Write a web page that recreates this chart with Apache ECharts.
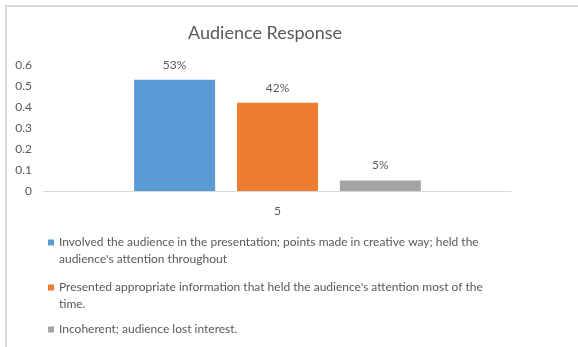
<!DOCTYPE html>
<html>
<head>
<meta charset="utf-8">
<script src="https://cdn.jsdelivr.net/npm/echarts@6/dist/echarts.min.js"></script>
<style>
  html, body { margin: 0; padding: 0; background: #ffffff; }
  #chart { width: 578px; height: 347px; }
</style>
</head>
<body>
<div id="chart"></div>
<script>
// Survey results for one presentation (category "5")
const categories = ['5'];
const seriesNames = [
  "Involved the audience in the presentation; points made in creative way; held the audience's attention throughout",
  "Presented appropriate information that held the audience's attention most of the time.",
  "Incoherent; audience lost interest."
];
// legend text, wrapped into lines
const legendLines = [
  ["Involved the audience in the presentation; points made in creative way; held the", "audience's attention throughout"],
  ["Presented appropriate information that held the audience's attention most of the", "time."],
  ["Incoherent; audience lost interest."]
];
const involvedValues = [0.53];
const presentedValues = [0.42];
const incoherentValues = [0.05];
const yTicks = { min: 0, max: 0.6, interval: 0.1 };

const colors = ['#5B9BD5', '#ED7D31', '#A5A5A5'];
const seriesValues = [involvedValues, presentedValues, incoherentValues];
const textColor = '#595959';
const fontFamily = 'Lato, "Liberation Sans", sans-serif';

const chart = echarts.init(document.getElementById('chart'), null, { renderer: 'canvas' });

const lineH = 17;
// vertical centre of the first text line of each legend entry
const legendCentres = [242, 287, 329];

// Legend text is centred on its swatch; a leading blank line keeps the
// swatch level with the first line of a wrapped entry.
function legendText(lines) {
  return lines.length > 1 ? '\n' + lines.join('\n') : lines[0];
}
function legendTop(lines, centre) {
  const nLines = lines.length > 1 ? lines.length + 1 : 1;
  return Math.round(centre - nLines * lineH / 2);
}

chart.setOption({
  animation: false,
  textStyle: { fontFamily: fontFamily, color: textColor },
  title: {
    text: 'Audience Response',
    left: 188,
    top: 24,
    padding: 0,
    textStyle: { fontFamily: fontFamily, fontSize: 18, fontWeight: 'normal', color: textColor }
  },
  graphic: [{
    type: 'rect',
    silent: true,
    shape: { x: 6, y: 6, width: 600, height: 400 },
    style: { fill: 'none', stroke: '#d9d9d9', lineWidth: 2 }
  }],
  legend: legendLines.map((lines, i) => ({
    data: [seriesNames[i]],
    orient: 'vertical',
    left: 48,
    top: legendTop(lines, legendCentres[i]),
    padding: 0,
    itemWidth: 6,
    itemHeight: 6,
    icon: 'rect',
    selectedMode: false,
    formatter: () => legendText(lines),
    textStyle: {
      fontFamily: fontFamily,
      fontSize: 12,
      color: textColor,
      lineHeight: lineH
    }
  })),
  grid: { left: 44, right: 67, top: 65, bottom: 156, containLabel: false },
  xAxis: {
    type: 'category',
    data: categories,
    axisLine: { show: true, lineStyle: { color: '#d9d9d9', width: 1 } },
    axisTick: { show: false },
    axisLabel: { color: textColor, fontSize: 12, margin: 14, fontFamily: fontFamily }
  },
  yAxis: {
    type: 'value',
    min: yTicks.min,
    max: yTicks.max,
    interval: yTicks.interval,
    axisLine: { show: false },
    axisTick: { show: false },
    splitLine: { show: false },
    axisLabel: {
      color: textColor,
      fontSize: 12,
      margin: 12,
      fontFamily: fontFamily,
      formatter: v => (Math.round(v * 10) / 10).toString()
    }
  },
  series: seriesNames.map((name, i) => ({
    name: name,
    type: 'bar',
    data: seriesValues[i],
    barWidth: 81,
    barGap: '27%',
    itemStyle: { color: colors[i] },
    label: {
      show: true,
      position: 'top',
      distance: 9,
      color: textColor,
      fontSize: 12,
      fontFamily: fontFamily,
      formatter: p => Math.round(p.value * 100) + '%'
    }
  }))
});
</script>
</body>
</html>
